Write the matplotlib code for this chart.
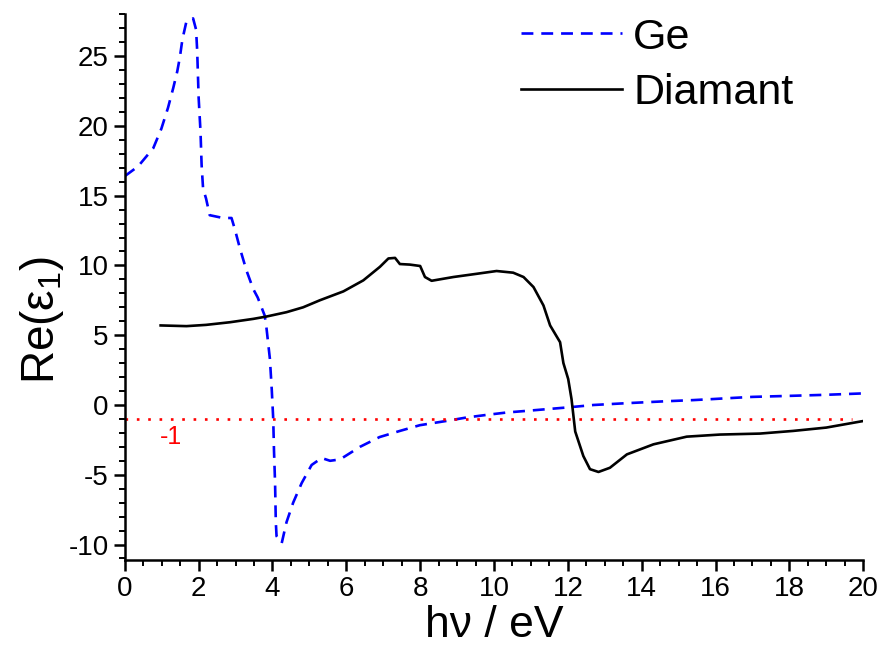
# Real part of the dielectric function for Ge and diamond
import matplotlib.pyplot as plt
from matplotlib.ticker import MultipleLocator

plt.rcParams['font.family'] = ['Liberation Sans', 'DejaVu Sans']
plt.rcParams['mathtext.fontset'] = 'custom'
plt.rcParams['mathtext.rm'] = 'Liberation Sans'
plt.rcParams['mathtext.it'] = 'Liberation Sans'
plt.rcParams['axes.unicode_minus'] = False

# Ge data
ge_x = [0.0, 0.36, 0.77, 0.99, 1.17, 1.31, 1.42, 1.49, 1.56, 1.67, 1.85,
        1.93, 1.96, 2.0, 2.05, 2.08, 2.12, 2.2, 2.3, 2.66, 2.89, 2.98,
        3.12, 3.3, 3.48, 3.6, 3.79, 3.84, 3.93, 3.98, 4.02, 4.04, 4.07,
        4.09, 4.11, 4.25, 4.38, 4.56, 4.79, 5.06, 5.33, 5.56, 5.83, 6.37,
        6.9, 7.45, 7.99, 8.72, 9.25, 9.8, 10.34, 10.89, 11.43, 11.97, 12.7,
        13.6, 14.68, 15.4, 15.9, 16.5, 17.0, 18.1, 19.0, 20.0]
ge_y = [16.4, 17.1, 18.4, 19.8, 21.3, 22.7, 23.9, 24.9, 26.2, 27.5, 27.7,
        26.9, 25.4, 22.0, 19.6, 17.2, 15.5, 14.8, 13.6, 13.4, 13.4, 12.6,
        11.2, 9.6, 8.3, 7.7, 6.4, 5.45, 3.3, 1.1, -1.0, -3.2, -5.6,
        -8.4, -9.4, -9.9, -8.4, -7.0, -5.6, -4.3, -3.8, -4.0, -3.9, -3.0,
        -2.3, -1.86, -1.45, -1.14, -0.9, -0.71, -0.54, -0.42, -0.3, -0.18, 0.0,
        0.13, 0.27, 0.35, 0.42, 0.51, 0.58, 0.66, 0.73, 0.83]

# Diamond data
dia_x = [0.97, 1.67, 2.2, 2.85, 3.48, 3.84, 4.38, 4.83, 5.28, 5.92, 6.46,
         6.91, 7.14, 7.32, 7.45, 7.72, 8.0, 8.13, 8.31, 8.9, 9.53, 10.07,
         10.52, 10.8, 11.07, 11.34, 11.52, 11.79, 11.88, 12.01, 12.1, 12.2,
         12.42, 12.6, 12.83, 13.14, 13.6, 14.32, 15.22, 16.12, 17.2, 18.1,
         19.0, 20.0]
dia_y = [5.7, 5.65, 5.74, 5.93, 6.17, 6.34, 6.65, 7.0, 7.5, 8.14, 8.93,
         9.9, 10.5, 10.54, 10.1, 10.06, 9.96, 9.17, 8.9, 9.17, 9.4, 9.6,
         9.48, 9.17, 8.45, 7.13, 5.7, 4.5, 3.0, 1.86, 0.42, -1.9,
         -3.66, -4.6, -4.8, -4.5, -3.54, -2.82, -2.27, -2.12, -2.05, -1.86,
         -1.62, -1.15]

ref_level = -1
ref_x = [0, 19.7]


def main():
    fig = plt.figure(figsize=(8.79, 6.48), dpi=100)
    ax = fig.add_axes([0.142, 0.136, 0.84, 0.842])

    ax.plot(ge_x, ge_y, color='blue', linestyle=(0, (4.5, 3)), lw=1.9, label='Ge')
    ax.plot(dia_x, dia_y, color='black', lw=1.9, label='Diamant')
    ax.plot(ref_x, [ref_level, ref_level], color='red', linestyle=(0, (1, 3.3)), lw=1.9)
    ax.text(1.25, -2.3, '-1', color='red', fontsize=18, ha='center', va='center')

    ax.set_xlim(0, 20)
    ax.set_ylim(-11.1, 28)
    ax.xaxis.set_major_locator(MultipleLocator(2))
    ax.xaxis.set_minor_locator(MultipleLocator(0.5))
    ax.yaxis.set_major_locator(MultipleLocator(5))
    ax.yaxis.set_minor_locator(MultipleLocator(1))

    for side in ['top', 'right']:
        ax.spines[side].set_visible(False)
    for side in ['left', 'bottom']:
        ax.spines[side].set_linewidth(1.8)
    ax.tick_params(which='major', direction='out', length=8, width=1.8, labelsize=20)
    ax.tick_params(which='minor', direction='out', length=4, width=1.4)

    ax.set_xlabel('h\u03bd / eV', fontsize=32)
    ax.xaxis.set_label_coords(0.5, -0.082)
    ax.set_ylabel('Re(\u03b5$_1$)', fontsize=33)
    ax.yaxis.set_label_coords(-0.08, 0.44)

    ax.legend(loc='upper right', bbox_to_anchor=(0.958, 1.065), frameon=False,
              fontsize=31, handlelength=2.35, handletextpad=0.25, labelspacing=0.35)

    fig.savefig('out.png', dpi=100)


if __name__ == "__main__":
    main()
